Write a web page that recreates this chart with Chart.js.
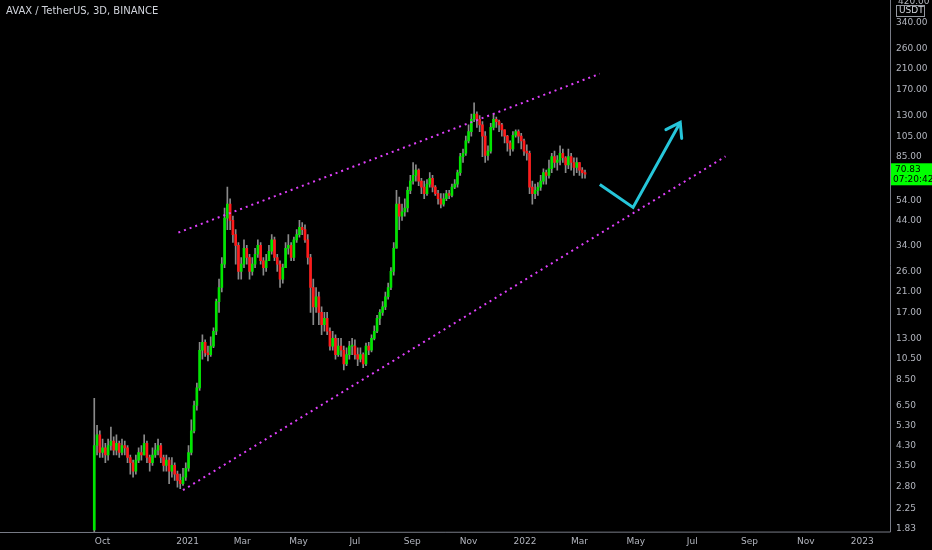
<!DOCTYPE html>
<html>
<head>
<meta charset="utf-8">
<script src="https://cdn.jsdelivr.net/npm/chart.js@4.4.1/dist/chart.umd.min.js"></script>
<style>
  html, body { margin: 0; padding: 0; background: #000; }
  #wrap { width: 932px; height: 550px; position: relative; }
</style>
</head>
<body>
<div id="wrap"><canvas id="c"></canvas></div>
<script>
// 3D candles starting 2020-09-22
const startDate = '2020-09-22';
const firstOpen = 1.8;
const closes = [
  4.3, 4.8, 4.0,
  4.2, 3.9, 4.3, 4.5, 4.1, 4.4, 4.0, 4.3, 4.2, 3.8,
  3.6, 3.3, 3.7, 4.0, 3.9, 4.4, 3.8, 3.6, 3.9, 4.1,
  4.3, 3.8, 3.5, 3.7, 3.3, 3.5, 3.2, 3.0, 2.9, 3.1,
  3.4, 4.0, 5.0, 6.5, 7.8, 11.5, 12.5, 11.2, 11.0, 12.0,
  14, 19, 22, 28, 45, 52, 44, 38, 34, 26,
  28, 33, 30, 26, 28, 31, 34, 29, 27, 29,
  32, 36, 30, 28, 24, 27, 33, 34, 30, 36,
  38, 41, 40, 36, 30, 22, 18, 20, 17, 15,
  16, 14, 12, 13, 11, 12, 11.5, 10, 11, 12,
  12, 11, 10.5, 11, 10, 12, 11.5, 13, 14, 16,
  17, 18, 20, 22, 26, 33, 52, 46, 48, 50,
  60, 66, 70, 74, 66, 62, 58, 64, 68, 62,
  58, 55, 52, 55, 58, 57, 62, 64, 72, 85,
  88, 100, 110, 125, 132, 125, 118, 105, 86, 90,
  115, 125, 122, 118, 112, 105, 98, 92, 106, 110,
  105, 100, 90, 88, 62, 58, 60, 62, 66, 72,
  70, 75, 85, 80, 82, 88, 84, 78, 85, 80,
  76, 80, 74, 72, 70.83
];
const highs = [
  7.0, 5.3, 5.0,
  4.6, 4.4, 4.6, 5.2, 4.7, 4.8, 4.5, 4.6, 4.5, 4.3,
  3.9, 3.7, 3.9, 4.2, 4.3, 4.8, 4.5, 3.9, 4.2, 4.4,
  4.6, 4.4, 3.9, 3.9, 3.8, 3.8, 3.6, 3.3, 3.2, 3.4,
  3.6, 4.3, 5.6, 6.8, 8.2, 12.5, 13.5, 12.8, 12.0, 13.2,
  14.5, 19.5, 24, 30, 50, 62, 55, 46, 40, 35,
  30, 36, 34, 31, 30, 33, 36, 35, 30, 31,
  34, 38, 37, 31, 29, 28, 35, 38, 35, 37,
  40, 44, 43, 42, 38, 31, 24, 22, 21, 18,
  17, 17, 14.5, 14, 13.5, 13, 13, 12, 11.8, 12.6,
  13, 12.8, 11.8, 11.8, 11.2, 12.4, 12.5, 13.5, 14.8, 16.5,
  17.5, 19, 21, 23, 27, 35, 60, 56, 52, 55,
  62, 70, 80, 78, 75, 68, 66, 67, 72, 70,
  63, 60, 58, 58, 60, 60, 64, 67, 74, 88,
  92, 105, 118, 132, 148, 135, 130, 122, 110, 95,
  120, 132, 128, 124, 120, 112, 106, 100, 110, 112,
  112, 108, 102, 96, 90, 66, 64, 65, 70, 75,
  74, 82, 88, 90, 86, 95, 92, 85, 92, 88,
  84, 84, 80, 76, 74
];
const lows = [
  1.76, 3.9, 3.8,
  3.8, 3.6, 3.7, 4.1, 3.9, 3.9, 3.8, 3.9, 3.9, 3.6,
  3.2, 3.1, 3.2, 3.6, 3.7, 3.9, 3.6, 3.3, 3.5, 3.8,
  3.9, 3.6, 3.3, 3.3, 2.9, 3.1, 3.0, 2.8, 2.75, 2.85,
  3.0, 3.3, 3.9, 4.9, 6.2, 7.6, 10.5, 10.8, 10.3, 10.8,
  11.8, 13.5, 17, 21, 27, 40, 40, 35, 28, 24,
  24, 27, 28, 24, 25, 27, 30, 28, 25, 26,
  29, 31, 29, 26, 22, 23, 27, 31, 29, 29,
  35, 37, 38, 35, 28, 17, 15, 17, 15, 13.5,
  14, 13.5, 11.5, 11.5, 10.5, 10.8, 10.8, 9.4, 9.8, 10.5,
  11, 10.5, 9.8, 10.2, 9.6, 9.8, 11, 11.3, 12.8, 13.8,
  15, 16.5, 17.5, 19.5, 21.5, 25, 33, 40, 44, 46,
  48, 58, 64, 66, 63, 58, 55, 57, 62, 59,
  57, 52, 50, 51, 54, 55, 56, 61, 62, 70,
  80, 86, 98, 105, 122, 115, 110, 85, 80, 82,
  88, 112, 115, 110, 105, 98, 90, 86, 90, 104,
  98, 92, 86, 82, 58, 52, 55, 57, 60, 64,
  64, 68, 72, 76, 74, 78, 80, 72, 75, 74,
  70, 72, 70, 68, 68
];

const tickDates = ['2020-10-01','2021-01-01','2021-03-01','2021-05-01','2021-07-01','2021-09-01','2021-11-01',
  '2022-01-01','2022-03-01','2022-05-01','2022-07-01','2022-09-01','2022-11-01','2023-01-01'];
const tickLabels = ['Oct','2021','Mar','May','Jul','Sep','Nov','2022','Mar','May','Jul','Sep','Nov','2023'];
const priceTicks = [1.83, 2.25, 2.8, 3.5, 4.3, 5.3, 6.5, 8.5, 10.5, 13, 17, 21, 26, 34, 44, 54, 85, 105, 130, 170, 210, 260, 340];

// trend channel and projected path
const upperLine = [['2020-12-22', 38.8], ['2022-03-23', 200]];
const lowerLine = [['2020-12-27', 2.71], ['2022-08-06', 85.2]];
const projection = [['2022-03-23', 63.8], ['2022-04-28', 50.3], ['2022-06-18', 121]];

const lastPrice = 70.83;
const countdown = '07:20:42';

const DAY = 86400000;
const t0 = Date.parse(startDate);
const dayOf = (s) => (Date.parse(s) - t0) / DAY;

const wicks = [], bodies = [], bodyColors = [];
closes.forEach((c, i) => {
  const o = i === 0 ? firstOpen : closes[i - 1];
  const x = i * 3;
  wicks.push({ x, y: [lows[i], highs[i]] });
  bodies.push({ x, y: [o, c] });
  bodyColors.push(c >= o ? '#00e600' : '#ff1a1a');
});
const pts = (arr) => arr.map(([d, v]) => ({ x: dayOf(d), y: v }));

const overlay = {
  id: 'overlay',
  afterDraw(chart) {
    const { ctx, chartArea, scales } = chart;
    // arrowhead at the projection tip
    const p = projection;
    const x1 = scales.x.getPixelForValue(dayOf(p[1][0])), y1 = scales.y.getPixelForValue(p[1][1]);
    const x2 = scales.x.getPixelForValue(dayOf(p[2][0])), y2 = scales.y.getPixelForValue(p[2][1]);
    const a = Math.atan2(y2 - y1, x2 - x1);
    ctx.save();
    ctx.strokeStyle = '#26c6da';
    ctx.lineWidth = 3;
    ctx.lineCap = 'round';
    ctx.beginPath();
    ctx.moveTo(x2 - 16 * Math.cos(a - 0.6), y2 - 16 * Math.sin(a - 0.6));
    ctx.lineTo(x2, y2);
    ctx.lineTo(x2 - 16 * Math.cos(a + 0.6), y2 - 16 * Math.sin(a + 0.6));
    ctx.stroke();

    // header
    ctx.fillStyle = '#d1d4dc';
    ctx.font = '10px "DejaVu Sans", sans-serif';
    ctx.textBaseline = 'middle';
    ctx.fillText('AVAX / TetherUS, 3D, BINANCE', 6, 11);

    // axis lines
    ctx.strokeStyle = '#787b86';
    ctx.lineWidth = 1;
    ctx.beginPath();
    ctx.moveTo(chartArea.right + 0.5, 0);
    ctx.lineTo(chartArea.right + 0.5, chartArea.bottom);
    ctx.lineTo(0, chartArea.bottom + 0.5);
    ctx.stroke();

    // currency badge
    ctx.font = '9px "DejaVu Sans", sans-serif';
    ctx.fillStyle = '#b2b5be';
    ctx.fillText('420.00', chartArea.right + 8, 2);
    ctx.fillStyle = '#000';
    ctx.fillRect(chartArea.right + 6, 5, 30, 12);
    ctx.strokeStyle = '#9598a1';
    ctx.strokeRect(chartArea.right + 6.5, 5.5, 28, 11);
    ctx.fillStyle = '#d1d4dc';
    ctx.fillText('USDT', chartArea.right + 9, 11);

    // last price label
    const py = scales.y.getPixelForValue(lastPrice);
    ctx.fillStyle = '#00ff00';
    ctx.fillRect(chartArea.right + 1, py - 11, 41, 22);
    ctx.fillStyle = '#000';
    ctx.fillText(lastPrice.toFixed(2), chartArea.right + 5, py - 5);
    ctx.fillText(countdown, chartArea.right + 3, py + 5);
    ctx.restore();
  }
};

new Chart(document.getElementById('c'), {
  type: 'bar',
  data: {
    datasets: [
      { data: wicks, backgroundColor: '#8a8a8a', barThickness: 1, grouped: false, order: 3 },
      { data: bodies, backgroundColor: bodyColors, barThickness: 2, grouped: false, order: 2, minBarLength: 1 },
      { type: 'line', data: pts(upperLine), borderColor: '#e040fb', borderWidth: 2, borderDash: [2, 4], pointRadius: 0, order: 1 },
      { type: 'line', data: pts(lowerLine), borderColor: '#e040fb', borderWidth: 2, borderDash: [2, 4], pointRadius: 0, order: 1 },
      { type: 'line', data: pts(projection), borderColor: '#26c6da', borderWidth: 3, pointRadius: 0, order: 0 }
    ]
  },
  options: {
    responsive: true,
    maintainAspectRatio: false,
    animation: false,
    layout: { padding: 0 },
    plugins: { legend: { display: false }, tooltip: { enabled: false } },
    scales: {
      x: {
        type: 'linear',
        offset: false,
        bounds: 'data',
        min: -102, max: 861,
        grid: { display: false, drawTicks: false },
        border: { display: false },
        afterFit: (s) => { s.height = 18; },
        afterBuildTicks: (s) => { s.ticks = tickDates.map(d => ({ value: dayOf(d) })); },
        ticks: {
          autoSkip: false, maxRotation: 0, color: '#b2b5be', padding: 4,
          font: { size: 9, family: '"DejaVu Sans", sans-serif' },
          callback: (v, i) => tickLabels[i]
        }
      },
      y: {
        type: 'logarithmic',
        position: 'right',
        bounds: 'data',
        min: 1.76, max: 381,
        grid: { display: false, drawTicks: false },
        border: { display: false },
        afterFit: (s) => { s.width = 42; },
        afterBuildTicks: (s) => { s.ticks = priceTicks.map(v => ({ value: v })); },
        ticks: {
          autoSkip: false, color: '#b2b5be', padding: 6,
          font: { size: 9, family: '"DejaVu Sans", sans-serif' },
          callback: (v) => Number(v).toFixed(2)
        }
      }
    }
  },
  plugins: [overlay]
});
</script>
</body>
</html>
